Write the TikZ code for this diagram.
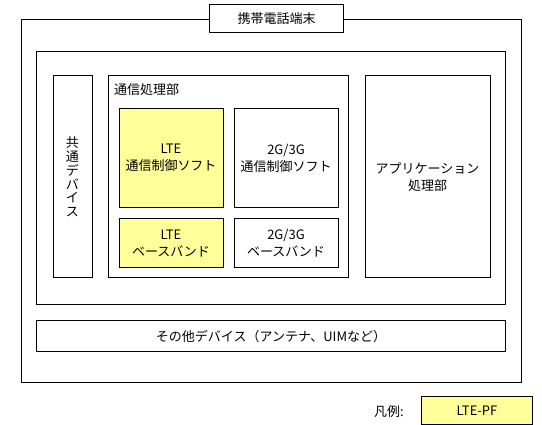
\documentclass[tikz,border=0pt]{standalone}
\usepackage{fontspec}
\setmainfont{Noto Sans CJK JP}
\usepackage{xcolor}
\definecolor{ltefill}{RGB}{255,255,153}
\tikzset{
  blk/.style={draw=black, line width=1pt, anchor=north west, inner sep=0pt, align=center,
    font=\fontsize{13}{17}\selectfont},
  lte/.style={blk, fill=ltefill},
}
\begin{document}
\begin{tikzpicture}[x=1pt,y=-1pt]
        \useasboundingbox (0,0) rectangle (542,425);
        % frames
        \node[blk, minimum width=500.5, minimum height=363.5] (phone) at (20.5,19) {};
        \node[blk, anchor=center, fill=white, minimum width=134, minimum height=28] (title) at (276.5,19) {携帯電話端末};
        \node[blk, minimum width=469, minimum height=253.5] (inner) at (36,51) {};
        \node[blk, minimum width=39, minimum height=202, font=\fontsize{13}{13.8}\selectfont] (common) at (52.5,75.5) {共\\通\\デ\\バ\\イ\\ス};
        \node[blk, minimum width=240.5, minimum height=202] (comm) at (107.5,75.5) {};
        \node[anchor=west, inner sep=0pt, font=\fontsize{13}{17}\selectfont] (commlabel) at (114,90) {通信処理部};
        \node[blk, minimum width=125, minimum height=202] (app) at (364.5,75.5) {アプリケーション\\処理部};
        % software and baseband
        \node[lte, minimum width=104, minimum height=98.5] (ltesoft) at (118.5,108.5) {LTE\\通信制御ソフト};
        \node[blk, minimum width=104, minimum height=98.5] (gsoft) at (233.5,108.5) {2G/3G\\通信制御ソフト};
        \node[lte, minimum width=104, minimum height=49] (ltebb) at (118.5,218.5) {LTE\\ベースバンド};
        \node[blk, minimum width=104, minimum height=49] (gbb) at (233.5,218.5) {2G/3G\\ベースバンド};
        \node[blk, minimum width=469, minimum height=30.5] (other) at (36,320.5) {その他デバイス（アンテナ、UIMなど）};
        % legend
        \node[lte, minimum width=111, minimum height=27.5] (legend) at (421,396.5) {LTE-PF};
        \node[anchor=east, inner sep=0pt, font=\fontsize{13}{17}\selectfont] (legendlabel) at (404,411.5) {凡例:};
    \end{tikzpicture}
\end{document}
